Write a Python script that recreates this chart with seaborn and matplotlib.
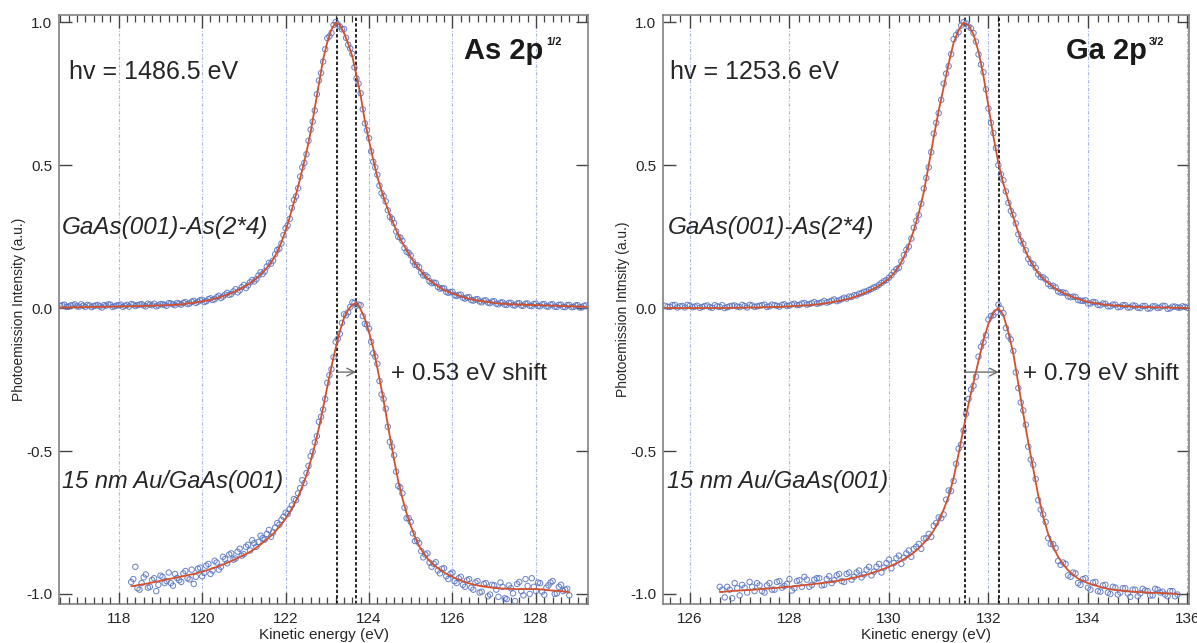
import numpy as np
import pandas as pd
import matplotlib
matplotlib.use("Agg")
import matplotlib.pyplot as plt
import seaborn as sns
from matplotlib.ticker import MultipleLocator, FormatStrFormatter

# ---------------- data ----------------
STEP = 0.1

# As 2p, GaAs(001)-As(2*4): fit and measured points, starting at 116.6 eV
as_clean_start = 116.6
as_clean_fit = [
    0.002, 0.002, 0.002, 0.003, 0.003, 0.003, 0.003, 0.004, 0.004, 0.004,
    0.004, 0.005, 0.005, 0.005, 0.005, 0.006, 0.006, 0.006, 0.007, 0.007,
    0.007, 0.008, 0.008, 0.009, 0.009, 0.010, 0.010, 0.011, 0.012, 0.013,
    0.015, 0.017, 0.019, 0.021, 0.023, 0.026, 0.029, 0.033, 0.037, 0.042,
    0.047, 0.052, 0.059, 0.066, 0.074, 0.082, 0.092, 0.104, 0.117, 0.132,
    0.150, 0.170, 0.196, 0.230, 0.270, 0.318, 0.370, 0.425, 0.483, 0.545,
    0.615, 0.700, 0.785, 0.870, 0.930, 0.975, 0.998, 0.990, 0.962, 0.925,
    0.880, 0.812, 0.742, 0.655, 0.585, 0.520, 0.458, 0.410, 0.366, 0.326,
    0.290, 0.256, 0.228, 0.203, 0.178, 0.156, 0.137, 0.119, 0.103, 0.092,
    0.082, 0.072, 0.063, 0.057, 0.051, 0.046, 0.041, 0.036, 0.032, 0.029,
    0.026, 0.024, 0.022, 0.020, 0.018, 0.016, 0.015, 0.014, 0.013, 0.013,
    0.012, 0.012, 0.011, 0.011, 0.010, 0.010, 0.009, 0.009, 0.008, 0.008,
    0.007, 0.007, 0.006, 0.006, 0.005, 0.005, 0.004,
]
# measured points on the 0.1 eV grid ...
as_clean_pts = [
    0.008, 0.012, 0.005, 0.010, 0.006, 0.013, 0.004, 0.009, 0.007, 0.011,
    0.002, 0.008, 0.012, 0.006, 0.010, 0.004, 0.011, 0.014, 0.007, 0.012,
    0.009, 0.015, 0.010, 0.006, 0.014, 0.011, 0.017, 0.013, 0.018, 0.012,
    0.021, 0.016, 0.025, 0.022, 0.029, 0.024, 0.034, 0.031, 0.043, 0.040,
    0.053, 0.049, 0.066, 0.062, 0.081, 0.079, 0.098, 0.101, 0.125, 0.128,
    0.158, 0.166, 0.203, 0.226, 0.279, 0.312, 0.378, 0.419, 0.492, 0.538,
    0.624, 0.691, 0.796, 0.862, 0.944, 0.962, 1.000, 0.985, 0.976, 0.921,
    0.889, 0.803, 0.751, 0.646, 0.594, 0.512, 0.466, 0.402, 0.373, 0.319,
    0.297, 0.249, 0.235, 0.197, 0.184, 0.151, 0.143, 0.114, 0.109, 0.087,
    0.088, 0.068, 0.069, 0.053, 0.057, 0.042, 0.047, 0.033, 0.038, 0.026,
    0.031, 0.020, 0.027, 0.017, 0.024, 0.013, 0.020, 0.011, 0.018, 0.009,
    0.017, 0.008, 0.016, 0.007, 0.015, 0.006, 0.014, 0.005, 0.013, 0.004,
    0.012, 0.003, 0.011, 0.004, 0.010, 0.002, 0.009,
]
# ... and the measured points in between (grid shifted by 0.05 eV)
as_clean_pts_mid = [
    0.010, 0.004, 0.009, 0.013, 0.005, 0.008, 0.011, 0.003, 0.009, 0.006,
    0.010, 0.013, 0.004, 0.009, 0.012, 0.008, 0.005, 0.012, 0.010, 0.014,
    0.006, 0.012, 0.015, 0.009, 0.013, 0.008, 0.016, 0.010, 0.015, 0.018,
    0.014, 0.022, 0.018, 0.027, 0.021, 0.031, 0.028, 0.038, 0.035, 0.047,
    0.046, 0.058, 0.055, 0.073, 0.070, 0.090, 0.093, 0.114, 0.119, 0.145,
    0.155, 0.188, 0.208, 0.255, 0.289, 0.350, 0.391, 0.460, 0.508, 0.585,
    0.652, 0.748, 0.822, 0.905, 0.950, 0.990, 0.992, 0.975, 0.945, 0.908,
    0.842, 0.785, 0.695, 0.622, 0.548, 0.492, 0.428, 0.391, 0.342, 0.312,
    0.268, 0.246, 0.210, 0.193, 0.163, 0.150, 0.125, 0.115, 0.094, 0.089,
    0.074, 0.070, 0.057, 0.056, 0.045, 0.046, 0.036, 0.037, 0.028, 0.030,
    0.023, 0.026, 0.019, 0.023, 0.015, 0.019, 0.012, 0.018, 0.010, 0.016,
    0.009, 0.015, 0.008, 0.014, 0.007, 0.013, 0.006, 0.012, 0.005, 0.011,
    0.004, 0.010, 0.003, 0.009, 0.002, 0.008,
]

# As 2p, 15 nm Au/GaAs(001), starting at 118.3 eV
as_au_start = 118.3
as_au_fit = [
    -0.973, -0.971, -0.968, -0.966, -0.963, -0.960, -0.957, -0.954, -0.951, -0.948,
    -0.945, -0.942, -0.939, -0.936, -0.933, -0.930, -0.926, -0.922, -0.918, -0.913,
    -0.908, -0.903, -0.897, -0.891, -0.885, -0.878, -0.871, -0.864, -0.857, -0.848,
    -0.838, -0.827, -0.815, -0.803, -0.790, -0.773, -0.756, -0.737, -0.714, -0.688,
    -0.660, -0.625, -0.585, -0.535, -0.480, -0.418, -0.348, -0.275, -0.205, -0.140,
    -0.082, -0.035, -0.006, 0.012, 0.018, -0.005, -0.038, -0.085, -0.140, -0.210,
    -0.285, -0.365, -0.450, -0.530, -0.605, -0.665, -0.718, -0.762, -0.800, -0.832,
    -0.856, -0.876, -0.892, -0.904, -0.915, -0.925, -0.933, -0.940, -0.947, -0.953,
    -0.958, -0.963, -0.967, -0.970, -0.973, -0.975, -0.977, -0.979, -0.980, -0.981,
    -0.982, -0.982, -0.983, -0.983, -0.983, -0.983, -0.983, -0.983, -0.984, -0.985,
    -0.987, -0.988, -0.989, -0.990, -0.992, -0.994,
]
as_au_pts = [
    -0.958, -0.905, -0.985, -0.942, -0.978, -0.951, -0.990, -0.936, -0.962, -0.925,
    -0.971, -0.944, -0.958, -0.920, -0.949, -0.965, -0.912, -0.938, -0.901, -0.930,
    -0.884, -0.915, -0.870, -0.893, -0.858, -0.876, -0.842, -0.861, -0.828, -0.812,
    -0.835, -0.796, -0.810, -0.776, -0.785, -0.752, -0.741, -0.716, -0.703, -0.668,
    -0.648, -0.602, -0.577, -0.518, -0.470, -0.398, -0.355, -0.262, -0.214, -0.118,
    -0.090, -0.022, -0.015, 0.020, 0.008, 0.010, -0.055, -0.072, -0.158, -0.195,
    -0.302, -0.352, -0.468, -0.515, -0.622, -0.648, -0.735, -0.748, -0.815, -0.822,
    -0.872, -0.858, -0.905, -0.889, -0.928, -0.910, -0.948, -0.925, -0.962, -0.940,
    -0.975, -0.948, -0.985, -0.955, -0.992, -0.962, -1.002, -0.970, -1.010, -0.975,
    -1.018, -0.980, -1.025, -0.958, -1.005, -0.972, -0.945, -0.990, -0.962, -1.003,
    -0.970, -0.955, -0.998, -0.968, -0.985, -1.005,
]
as_au_pts_mid = [
    -0.948, -0.980, -0.962, -0.932, -0.975, -0.945, -0.968, -0.940, -0.955, -0.962,
    -0.930, -0.952, -0.928, -0.945, -0.915, -0.940, -0.908, -0.926, -0.895, -0.918,
    -0.890, -0.905, -0.878, -0.862, -0.880, -0.852, -0.866, -0.835, -0.848, -0.822,
    -0.818, -0.805, -0.790, -0.800, -0.768, -0.758, -0.730, -0.720, -0.690, -0.672,
    -0.630, -0.612, -0.552, -0.502, -0.448, -0.380, -0.318, -0.235, -0.172, -0.108,
    -0.052, -0.025, 0.004, 0.018, 0.012, -0.028, -0.058, -0.118, -0.170, -0.255,
    -0.318, -0.415, -0.485, -0.572, -0.628, -0.698, -0.735, -0.788, -0.812, -0.850,
    -0.862, -0.890, -0.895, -0.918, -0.912, -0.938, -0.930, -0.955, -0.945, -0.968,
    -0.952, -0.978, -0.960, -0.995, -0.965, -1.008, -0.968, -0.985, -0.960, -1.015,
    -0.970, -0.998, -0.965, -0.990, -0.948, -1.000, -0.975, -0.960, -0.992, -0.978,
    -0.960, -1.000, -0.975, -0.990, -0.982,
]

# Ga 2p, GaAs(001)-As(2*4), starting at 125.5 eV
ga_clean_start = 125.5
ga_clean_fit = [
    0.000, 0.000, 0.000, 0.000, 0.000, 0.000, 0.000, 0.000, 0.000, 0.000,
    0.000, 0.000, 0.000, 0.001, 0.001, 0.001, 0.001, 0.002, 0.002, 0.002,
    0.003, 0.003, 0.004, 0.004, 0.005, 0.006, 0.007, 0.008, 0.009, 0.010,
    0.012, 0.014, 0.016, 0.019, 0.022, 0.025, 0.029, 0.033, 0.038, 0.045,
    0.052, 0.060, 0.068, 0.078, 0.090, 0.103, 0.122, 0.145, 0.178, 0.222,
    0.272, 0.332, 0.405, 0.500, 0.598, 0.690, 0.772, 0.855, 0.928, 0.972,
    0.998, 0.990, 0.957, 0.897, 0.812, 0.705, 0.600, 0.507, 0.435, 0.375,
    0.318, 0.265, 0.218, 0.178, 0.148, 0.122, 0.103, 0.088, 0.074, 0.062,
    0.053, 0.045, 0.038, 0.032, 0.026, 0.021, 0.018, 0.015, 0.013, 0.011,
    0.009, 0.008, 0.007, 0.006, 0.005, 0.004, 0.004, 0.003, 0.003, 0.002,
    0.002, 0.002, 0.001, 0.001, 0.001, 0.000,
]
ga_clean_pts = [
    0.008, 0.004, 0.011, 0.006, 0.002, 0.009, 0.005, 0.001, 0.007, 0.003,
    0.010, 0.004, 0.000, 0.006, 0.009, 0.003, 0.007, 0.011, 0.004, 0.008,
    0.012, 0.006, 0.010, 0.005, 0.013, 0.009, 0.015, 0.011, 0.018, 0.014,
    0.021, 0.017, 0.025, 0.022, 0.030, 0.027, 0.036, 0.040, 0.045, 0.050,
    0.057, 0.063, 0.072, 0.081, 0.094, 0.106, 0.127, 0.141, 0.185, 0.215,
    0.281, 0.325, 0.418, 0.492, 0.610, 0.682, 0.785, 0.846, 0.940, 0.965,
    1.000, 0.985, 0.962, 0.887, 0.825, 0.698, 0.612, 0.500, 0.447, 0.368,
    0.326, 0.258, 0.225, 0.172, 0.153, 0.118, 0.107, 0.084, 0.078, 0.058,
    0.055, 0.041, 0.040, 0.028, 0.025, 0.016, 0.021, 0.011, 0.016, 0.006,
    0.012, 0.003, 0.010, 0.002, 0.009, 0.001, 0.007, -0.002, 0.006, 0.000,
    0.008, -0.003, 0.005, 0.002, 0.006, 0.001,
]
ga_clean_pts_mid = [
    0.005, 0.010, 0.002, 0.007, 0.011, 0.003, 0.008, 0.004, 0.009, 0.001,
    0.006, 0.010, 0.003, 0.008, 0.005, 0.011, 0.002, 0.009, 0.006, 0.010,
    0.004, 0.012, 0.008, 0.011, 0.007, 0.013, 0.010, 0.016, 0.012, 0.017,
    0.015, 0.020, 0.019, 0.026, 0.024, 0.031, 0.033, 0.039, 0.044, 0.052,
    0.058, 0.067, 0.075, 0.088, 0.098, 0.115, 0.136, 0.163, 0.204, 0.243,
    0.305, 0.365, 0.455, 0.545, 0.648, 0.728, 0.820, 0.888, 0.955, 0.988,
    0.995, 0.978, 0.932, 0.852, 0.765, 0.648, 0.560, 0.468, 0.408, 0.340,
    0.296, 0.236, 0.202, 0.158, 0.140, 0.108, 0.100, 0.077, 0.072, 0.054,
    0.052, 0.038, 0.039, 0.026, 0.027, 0.016, 0.020, 0.010, 0.015, 0.006,
    0.012, 0.004, 0.010, 0.002, 0.008, 0.000, 0.007, -0.001, 0.006, 0.002,
    0.007, -0.001, 0.005, 0.001, 0.004,
]

# Ga 2p, 15 nm Au/GaAs(001), starting at 126.6 eV
ga_au_start = 126.6
ga_au_fit = [
    -0.993, -0.992, -0.990, -0.989, -0.988, -0.987, -0.986, -0.985, -0.983, -0.982,
    -0.981, -0.979, -0.978, -0.976, -0.975, -0.973, -0.971, -0.969, -0.967, -0.965,
    -0.963, -0.961, -0.959, -0.956, -0.953, -0.950, -0.947, -0.943, -0.939, -0.935,
    -0.930, -0.924, -0.918, -0.912, -0.905, -0.897, -0.888, -0.878, -0.868, -0.855,
    -0.840, -0.822, -0.803, -0.778, -0.745, -0.705, -0.658, -0.595, -0.510, -0.420,
    -0.335, -0.260, -0.185, -0.112, -0.055, -0.015, 0.000, -0.025, -0.085, -0.159,
    -0.265, -0.370, -0.470, -0.562, -0.655, -0.730, -0.790, -0.835, -0.870, -0.896,
    -0.917, -0.933, -0.946, -0.955, -0.962, -0.968, -0.973, -0.978, -0.982, -0.985,
    -0.987, -0.989, -0.991, -0.992, -0.993, -0.994, -0.995, -0.996, -0.996, -0.997,
    -0.998, -0.999, -1.000,
]
ga_au_pts = [
    -0.975, -1.012, -0.985, -0.962, -1.005, -0.978, -0.958, -0.990, -0.970, -0.995,
    -0.962, -0.985, -0.955, -0.972, -0.948, -0.980, -0.952, -0.940, -0.975, -0.950,
    -0.945, -0.968, -0.938, -0.952, -0.930, -0.958, -0.925, -0.940, -0.918, -0.932,
    -0.905, -0.922, -0.895, -0.908, -0.880, -0.892, -0.866, -0.873, -0.848, -0.842,
    -0.825, -0.806, -0.790, -0.762, -0.732, -0.722, -0.638, -0.605, -0.492, -0.428,
    -0.318, -0.272, -0.170, -0.120, -0.040, -0.025, 0.012, -0.018, -0.098, -0.150,
    -0.280, -0.358, -0.485, -0.548, -0.672, -0.722, -0.805, -0.826, -0.885, -0.890,
    -0.935, -0.925, -0.962, -0.948, -0.978, -0.960, -0.990, -0.970, -0.995, -0.975,
    -1.002, -0.980, -0.998, -0.985, -1.008, -0.982, -0.990, -1.005, -0.985, -0.992,
    -1.008, -0.990, -1.002,
]
ga_au_pts_mid = [
    -0.985, -0.975, -1.015, -0.980, -0.968, -0.995, -0.975, -0.962, -0.990, -0.970,
    -0.985, -0.958, -0.978, -0.965, -0.988, -0.955, -0.975, -0.950, -0.968, -0.945,
    -0.970, -0.948, -0.962, -0.935, -0.955, -0.930, -0.950, -0.925, -0.942, -0.915,
    -0.935, -0.905, -0.925, -0.892, -0.910, -0.875, -0.895, -0.858, -0.870, -0.835,
    -0.842, -0.805, -0.800, -0.752, -0.735, -0.670, -0.640, -0.545, -0.478, -0.370,
    -0.285, -0.240, -0.135, -0.095, -0.028, -0.015, -0.002, -0.070, -0.110, -0.225,
    -0.330, -0.408, -0.530, -0.598, -0.705, -0.748, -0.825, -0.840, -0.898, -0.895,
    -0.940, -0.928, -0.968, -0.945, -0.985, -0.958, -0.992, -0.968, -1.000, -0.978,
    -0.995, -0.980, -1.010, -0.985, -0.998, -0.988, -1.005, -0.982, -0.995, -1.002,
    -0.990, -1.008,
]

# peak positions (dashed lines) and labels
as_peaks = [123.23, 123.69]
ga_peaks = [131.52, 132.21]
as_shift_label = "+ 0.53 eV shift"
ga_shift_label = "+ 0.79 eV shift"
as_hv = "hv = 1486.5 eV"
ga_hv = "hv = 1253.6 eV"
clean_label = "GaAs(001)-As(2*4)"
au_label = "15 nm Au/GaAs(001)"
y_ticks = [-1.0, -0.5, 0.0, 0.5, 1.0]


def energies(start, values):
    return np.round(start + STEP * np.arange(len(values)), 3)


# ---------------- style ----------------
sns.set_theme(style="white")
plt.rcParams["font.family"] = ["Liberation Sans", "DejaVu Sans"]
plt.rcParams["axes.unicode_minus"] = False

TXT = "#262626"
PT_COLOR = "#5572c0"
FIT_COLOR = "#d4502c"
GRID_COLOR = "#a9b8e2"

fig = plt.figure(figsize=(11.97, 6.43), dpi=100)
ax_l = fig.add_axes([0.0493, 0.0607, 0.4420, 0.9160])
ax_r = fig.add_axes([0.5539, 0.0607, 0.4394, 0.9160])

panels = [
    dict(ax=ax_l, xlim=(116.57, 129.25), majors=np.arange(118, 129, 2),
         series=[(as_clean_start, as_clean_fit, as_clean_pts, as_clean_pts_mid),
                 (as_au_start, as_au_fit, as_au_pts, as_au_pts_mid)],
         peaks=as_peaks, shift=as_shift_label, hv=as_hv,
         title="As 2p", sup="1/2",
         ylabel="Photoemission Intensity (a.u.)",
         hv_x=116.81, lab_x=116.64, title_x=126.28, shift_x=124.52),
    dict(ax=ax_r, xlim=(125.46, 136.03), majors=np.arange(126, 137, 2),
         series=[(ga_clean_start, ga_clean_fit, ga_clean_pts, ga_clean_pts_mid),
                 (ga_au_start, ga_au_fit, ga_au_pts, ga_au_pts_mid)],
         peaks=ga_peaks, shift=ga_shift_label, hv=ga_hv,
         title="Ga 2p", sup="3/2",
         ylabel="Photoemission Intnsity (a.u.)",
         hv_x=125.60, lab_x=125.55, title_x=133.55, shift_x=132.69),
]

for p in panels:
    ax = p["ax"]
    ax.set_xlim(*p["xlim"])
    ax.set_ylim(-1.035, 1.025)

    for v in p["majors"]:
        ax.axvline(v, color=GRID_COLOR, lw=0.8, ls=(0, (3, 1.5, 1, 1.5)), zorder=0)
    for v in p["peaks"]:
        ax.axvline(v, color="black", lw=1.2, ls=(0, (2, 1.3)), zorder=1)

    for start, fit, pts, pts_mid in p["series"]:
        df = pd.DataFrame({
            "E": np.concatenate([energies(start, pts),
                                 energies(start + STEP / 2, pts_mid)]),
            "I": np.concatenate([pts, pts_mid]),
        })
        sns.scatterplot(data=df, x="E", y="I", ax=ax, marker="o", s=15,
                        color=PT_COLOR, facecolor="none", edgecolor=PT_COLOR,
                        linewidth=0.75, alpha=0.85, zorder=2)
        sns.lineplot(x=energies(start, fit), y=fit, ax=ax, color=FIT_COLOR,
                     lw=1.3, sort=False, estimator=None, zorder=3)

    # shift arrow
    ax.annotate("", xy=(p["peaks"][1], -0.224), xytext=(p["peaks"][0], -0.224),
                arrowprops=dict(arrowstyle="->", color="#6e6e6e", lw=1.0,
                                shrinkA=0, shrinkB=0, mutation_scale=14), zorder=4)
    ax.text(p["shift_x"], -0.252, p["shift"], fontsize=17.5, color=TXT, va="baseline")
    ax.text(p["hv_x"], 0.80, p["hv"], fontsize=18, color=TXT, va="baseline")
    ax.text(p["lab_x"], 0.26, clean_label, fontsize=17.5, style="italic", color=TXT,
            va="baseline")
    ax.text(p["lab_x"], -0.63, au_label, fontsize=17, style="italic", color=TXT,
            va="baseline")
    t = ax.text(p["title_x"], 0.871, p["title"], fontsize=21, fontweight="bold",
                color="#1a1a1a", va="baseline")
    ax.annotate(p["sup"], xy=(1.0, 1.0), xycoords=t, xytext=(2, 0),
                textcoords="offset points", fontsize=8, fontweight="bold",
                color="#1a1a1a", ha="left", va="top")

    # ticks
    ax.xaxis.set_major_locator(MultipleLocator(2))
    ax.xaxis.set_minor_locator(MultipleLocator(0.2))
    ax.set_yticks(y_ticks)
    ax.yaxis.set_major_formatter(FormatStrFormatter("%.1f"))
    ax.tick_params(axis="x", which="major", direction="in", top=True, bottom=True,
                   length=9, width=1.0, color="#444444", labelsize=11,
                   labelcolor=TXT, pad=6)
    ax.tick_params(axis="x", which="minor", direction="in", top=True, bottom=True,
                   length=5, width=0.9, color="#444444")
    ax.tick_params(axis="y", which="major", direction="in", left=True, right=True,
                   length=9, width=1.0, color="#444444", labelsize=11,
                   labelcolor=TXT, pad=5)
    for s in ax.spines.values():
        s.set_color("#777777")
        s.set_linewidth(1.1)

    ax.set_xlabel("Kinetic energy (eV)", fontsize=11, color=TXT)
    ax.xaxis.set_label_coords(0.5, -0.040)
    ax.set_ylabel(p["ylabel"], fontsize=10, color=TXT)
    ax.yaxis.set_label_coords(-0.062, 0.5)

fig.savefig("out.png", dpi=100)
